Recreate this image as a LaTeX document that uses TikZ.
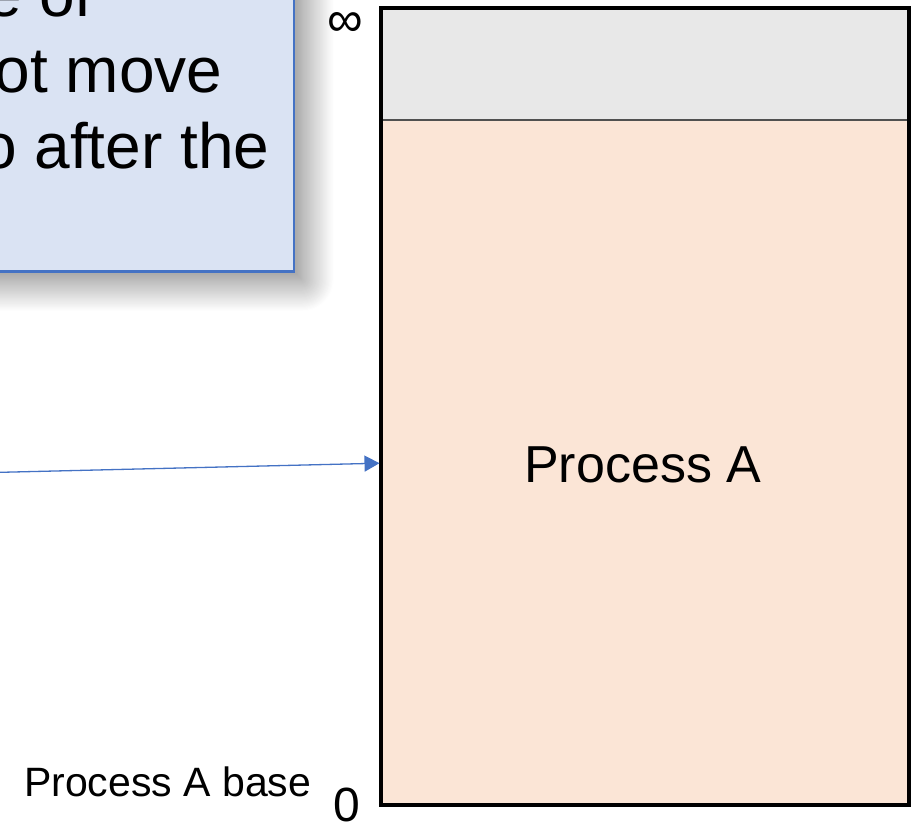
\documentclass[tikz,border=0pt]{standalone}
\usepackage{fontspec}
\setmainfont{Liberation Sans}
\usetikzlibrary{arrows.meta,shadows.blur}

\definecolor{noteblue}{HTML}{DAE3F3}
\definecolor{noteedge}{HTML}{4472C4}
\definecolor{procfill}{HTML}{FBE5D6}
\definecolor{freefill}{HTML}{E8E8E8}
\definecolor{sepline}{HTML}{505050}

\tikzset{
  notebox/.style={rectangle, fill=noteblue, draw=noteedge, line width=2.2pt,
    blur shadow={shadow xshift=8pt, shadow yshift=-8pt,
                 shadow blur radius=32pt, shadow blur steps=30,
                 shadow opacity=55}},
  notetext/.style={inner sep=0pt, font=\fontsize{64}{76}\selectfont},
  regionbox/.style={rectangle, inner sep=0pt, outer sep=0pt, draw=none},
  pointer/.style={draw=noteedge, line width=1.3pt,
    -{Triangle[length=15pt,width=16pt]}}
}

\begin{document}
\begin{tikzpicture}[x=1pt,y=-1pt]
  \useasboundingbox (0,0) rectangle (919,822);
  \clip (0,0) rectangle (919,822);

  % memory column: process region and free space above it
  \node[regionbox, fill=procfill, anchor=north west,
        minimum width=527.7pt, minimum height=796.4pt] (mem) at (381.3,8.3) {};
  \node[regionbox, fill=freefill, anchor=north west,
        minimum width=527.7pt, minimum height=111.7pt] (free) at (381.3,8.3) {};
  \draw[sepline, line width=1.8pt] (free.south west) -- (free.south east);
  \draw[black, line width=3.8pt] (mem.north west) rectangle (mem.south east);

  \node[anchor=base west, font=\fontsize{52}{62}\selectfont, inner sep=0pt]
    (plabel) at (524,482) {Process A};

  % address labels
  \node[inner sep=0pt, font=\fontsize{50}{60}\selectfont, anchor=base]
    (inf) at (345,36.5) {∞};
  \node[inner sep=0pt, font=\fontsize{48}{56}\selectfont, anchor=base]
    (zero) at (347,821) {0};
  \node[inner sep=0pt, font=\fontsize{41}{49}\selectfont, anchor=base west]
    (baselbl) at (24,796) {Process A base};

  % pointer into the process region
  \coordinate (from) at (-20,472.8);
  \coordinate (tip) at (379.5,463.2);
  \draw[pointer] (from) -- (tip);

  % call-out note
  \node[notebox, anchor=south east, minimum width=420pt, minimum height=400pt]
    (note) at (295,272.5) {};
  \node[notetext, anchor=base east] (l1) at (93,16) {e of};
  \node[notetext, anchor=base east] (l2) at (222.5,92) {ot move};
  \node[notetext, anchor=base east] (l3) at (269.5,168) {o after the};
\end{tikzpicture}
\end{document}
